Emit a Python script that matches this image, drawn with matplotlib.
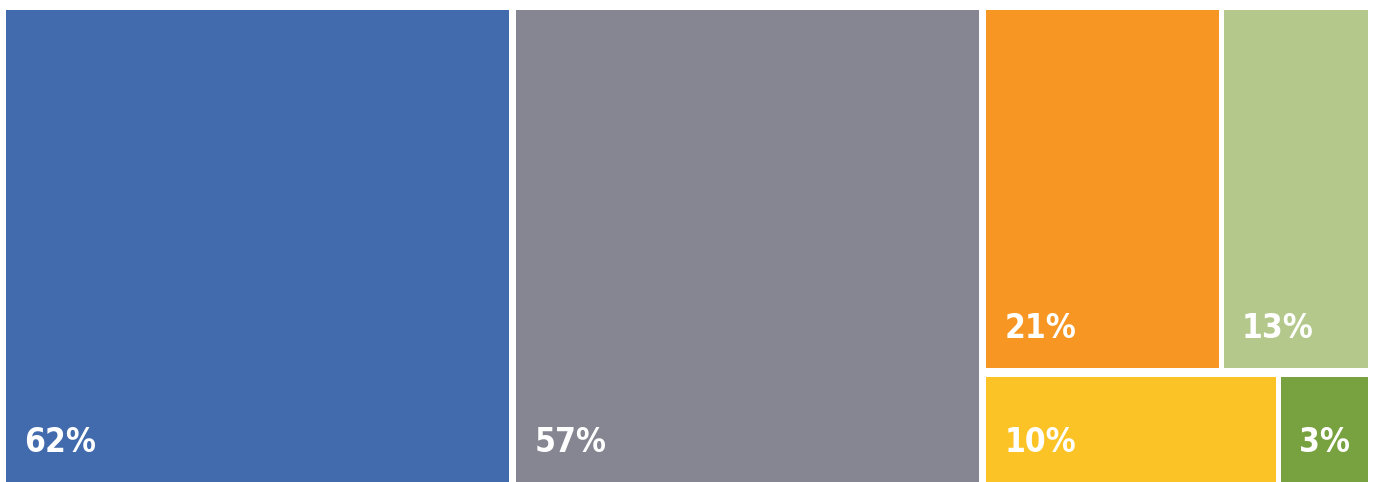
import matplotlib.pyplot as plt
from matplotlib.patches import Rectangle
from matplotlib import font_manager

# datos del treemap
etiquetas = ["62%", "57%", "21%", "13%", "10%", "3%"]
valores = [62, 57, 21, 13, 10, 3]
colores = ["#416BAD", "#858691", "#F79622", "#B3C88A", "#FBC325", "#78A240"]

# columnas: [62], [57], [[21, 13], [10, 3]]
columnas = [[[0]], [[1]], [[2, 3], [4, 5]]]

nombres = {f.name for f in font_manager.fontManager.ttflist}
familia = [n for n in ["Liberation Sans Narrow", "DejaVu Sans Condensed"] if n in nombres]
familia += ["DejaVu Sans"]

W, H = 1375, 482
x0, y0, x1, y1 = 6, 10, 1368, 514
gap_col, gap_fila, gap_celda = 7, 9, 5

fig = plt.figure(figsize=(W / 100, H / 100), dpi=100)
ax = fig.add_axes([0, 0, 1, 1])
ax.set_xlim(0, W)
ax.set_ylim(H, 0)
ax.axis("off")

def suma(grupo):
    return sum(valores[i] for fila in grupo for i in fila)

total = sum(suma(c) for c in columnas)
ancho_util = (x1 - x0) - gap_col * (len(columnas) - 1)
x = x0
for col in columnas:
    w = ancho_util * suma(col) / total
    alto_util = (y1 - y0) - gap_fila * (len(col) - 1)
    y = y0
    for fila in col:
        h = alto_util * sum(valores[i] for i in fila) / suma(col)
        ancho_fila = w - gap_celda * (len(fila) - 1)
        xx = x
        for i in fila:
            ww = ancho_fila * valores[i] / sum(valores[j] for j in fila)
            ax.add_patch(Rectangle((xx, y), ww, h, facecolor=colores[i], edgecolor="none"))
            base = min(y + h, H) - 30
            ax.text(xx + 18, base, etiquetas[i], color="white", fontsize=24,
                    fontweight="bold", fontstretch="condensed", family=familia,
                    ha="left", va="baseline")
            xx += ww + gap_celda
        y += h + gap_fila
    x += w + gap_col

fig.savefig("out.png", dpi=100)
